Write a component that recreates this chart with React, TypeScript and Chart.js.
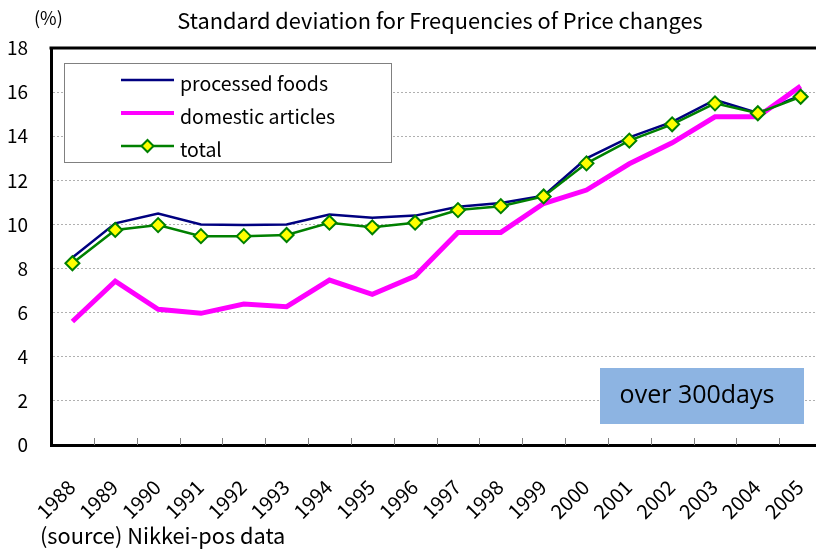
import React, { useEffect, useRef } from "react";
import { Chart, registerables } from "chart.js";

Chart.register(...registerables);

const years = ["1988","1989","1990","1991","1992","1993","1994","1995","1996","1997","1998","1999","2000","2001","2002","2003","2004","2005"];
const processedFoods = [8.5, 10.05, 10.5, 10.0, 9.98, 10.0, 10.45, 10.3, 10.4, 10.8, 10.97, 11.3, 13.0, 13.95, 14.65, 15.65, 15.05, 15.85];
const domesticArticles = [5.6, 7.43, 6.15, 5.97, 6.39, 6.27, 7.48, 6.83, 7.66, 9.64, 9.64, 10.95, 11.56, 12.75, 13.7, 14.88, 14.88, 16.27];
const total = [8.24, 9.75, 9.97, 9.47, 9.47, 9.52, 10.08, 9.87, 10.08, 10.65, 10.83, 11.27, 12.77, 13.8, 14.54, 15.49, 15.04, 15.79];

const seriesNames = ["processed foods", "domestic articles", "total"];
const titleText = "Standard deviation for Frequencies of Price changes";
const unitText = "(%)";
const sourceText = "(source) Nikkei-pos data";
const noteText = "over 300days";

const NAVY = "#000080";
const MAGENTA = "#FF00FF";
const GREEN = "#008000";
const YELLOW = "#FFFF00";
const JP = "'Noto Sans CJK JP', 'Noto Sans', sans-serif";

const CW = 840;
const CH = 553;

const decor = {
  id: "decor",
  afterDraw(chart: any) {
    const ctx = chart.ctx;
    const a = chart.chartArea;
    const xs = chart.scales.x;
    ctx.save();
    // top frame line
    ctx.strokeStyle = "#000";
    ctx.lineWidth = 3;
    ctx.beginPath();
    ctx.moveTo(a.left - 1.5, a.top);
    ctx.lineTo(CW, a.top);
    ctx.stroke();
    // inner tick marks between categories
    ctx.strokeStyle = "#808080";
    ctx.lineWidth = 1;
    for (let i = 1; i < years.length; i++) {
      const px = Math.round((xs.getPixelForTick(i - 1) + xs.getPixelForTick(i)) / 2) + 0.5;
      ctx.beginPath();
      ctx.moveTo(px, a.bottom - 7);
      ctx.lineTo(px, a.bottom);
      ctx.stroke();
    }
    // title
    ctx.fillStyle = "#000";
    ctx.font = `21.8px ${JP}`;
    ctx.textAlign = "center";
    ctx.textBaseline = "alphabetic";
    ctx.fillText(titleText, 440, 29);
    // unit
    ctx.font = `18px ${JP}`;
    ctx.textAlign = "left";
    ctx.fillText(unitText, 34, 25);
    // source
    ctx.font = `21.8px ${JP}`;
    ctx.fillText(sourceText, 40, 544);
    // legend
    ctx.fillStyle = "#fff";
    ctx.fillRect(64.5, 63.5, 327, 99);
    ctx.strokeStyle = "#808080";
    ctx.lineWidth = 1;
    ctx.strokeRect(64.5, 63.5, 327, 99);
    const rows = [80, 113, 146];
    const cols = [NAVY, MAGENTA, GREEN];
    const widths = [2.5, 4, 2.5];
    for (let i = 0; i < 3; i++) {
      ctx.strokeStyle = cols[i];
      ctx.lineWidth = widths[i];
      ctx.beginPath();
      ctx.moveTo(121, rows[i]);
      ctx.lineTo(174, rows[i]);
      ctx.stroke();
      ctx.fillStyle = "#000";
      ctx.font = `19.5px ${JP}`;
      ctx.textAlign = "left";
      ctx.fillText(seriesNames[i], 180, rows[i] + 11);
    }
    // diamond in legend
    const cx = 147.5, cy = 146, r = 6;
    ctx.beginPath();
    ctx.moveTo(cx - r, cy);
    ctx.lineTo(cx, cy - r);
    ctx.lineTo(cx + r, cy);
    ctx.lineTo(cx, cy + r);
    ctx.closePath();
    ctx.fillStyle = YELLOW;
    ctx.fill();
    ctx.strokeStyle = GREEN;
    ctx.lineWidth = 2;
    ctx.stroke();
    // note box
    ctx.fillStyle = "#8DB4E2";
    ctx.fillRect(600, 368, 204, 56);
    ctx.fillStyle = "#000";
    ctx.font = `25px 'Open Sans', Lato, sans-serif`;
    ctx.textAlign = "center";
    ctx.textBaseline = "middle";
    ctx.fillText(noteText, 697, 396);
    ctx.restore();
  },
};

export default function App() {
  const ref = useRef<HTMLCanvasElement | null>(null);
  useEffect(() => {
    if (!ref.current) return;
    const chart = new Chart(ref.current, {
      type: "line",
      data: {
        labels: years,
        datasets: [
          {
            label: seriesNames[0],
            data: processedFoods,
            borderColor: NAVY,
            backgroundColor: NAVY,
            borderWidth: 2.5,
            pointRadius: 0,
            order: 2,
          },
          {
            label: seriesNames[1],
            data: domesticArticles,
            borderColor: MAGENTA,
            backgroundColor: MAGENTA,
            borderWidth: 5,
            pointRadius: 0,
            order: 1,
          },
          {
            label: seriesNames[2],
            data: total,
            borderColor: GREEN,
            backgroundColor: YELLOW,
            borderWidth: 2.5,
            pointStyle: "rectRot",
            pointRadius: 7,
            pointBorderWidth: 2,
            pointBorderColor: GREEN,
            pointBackgroundColor: YELLOW,
            order: 0,
          },
        ],
      },
      options: {
        responsive: false,
        animation: false,
        devicePixelRatio: 1,
        layout: { padding: { top: 48, left: 0, right: CW - 827, bottom: 0 } },
        plugins: {
          legend: { display: false },
          title: { display: false },
          tooltip: { enabled: false },
        },
        scales: {
          x: {
            type: "category",
            offset: true,
            grid: { display: false },
            border: { display: true, color: "#000", width: 3 },
            ticks: {
              autoSkip: false,
              minRotation: 45,
              maxRotation: 45,
              padding: 22,
              labelOffset: -1,
              color: "#000",
              font: { family: JP, size: 20 },
            },
            afterFit(scale: any) {
              scale.height = 108;
            },
          },
          y: {
            min: 0,
            max: 18,
            ticks: {
              stepSize: 2,
              padding: 23,
              color: "#000",
              font: { family: JP, size: 19 },
            },
            grid: {
              color: "#b0b0b0",
              lineWidth: 1,
              drawTicks: false,
            },
            border: { display: true, color: "#000", width: 3, dash: [2, 2] },
            afterFit(scale: any) {
              scale.width = 51;
            },
          },
        },
      },
      plugins: [decor],
    });
    return () => chart.destroy();
  }, []);
  return (
    <div style={{ position: "fixed", left: 0, top: 0, width: 816, height: 553, overflow: "hidden", background: "#fff" }}>
      <canvas ref={ref} width={CW} height={CH} style={{ display: "block", width: CW, height: CH }} />
    </div>
  );
}
